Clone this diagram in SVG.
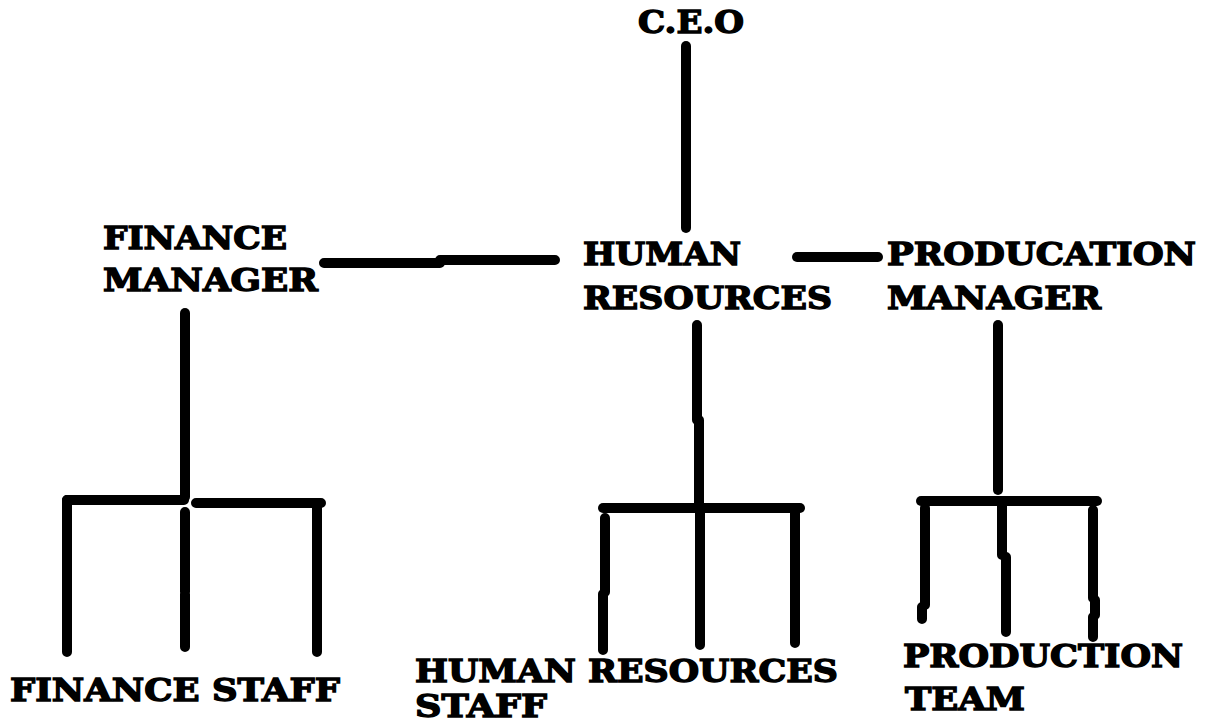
<svg xmlns="http://www.w3.org/2000/svg" width="1209" height="726" viewBox="0 0 1209 726">
<style>
text{font-family:"DejaVu Serif","Liberation Serif",serif;font-weight:900;font-size:32px;fill:#000;stroke:#000;stroke-width:1.4}
.c{stroke:#000;stroke-width:10;stroke-linecap:round;fill:none}
</style>
<rect width="1209" height="726" fill="#fff"/>
<g id="connectors">
<path class="c" d="M686 46V228"/>
<path class="c" d="M324 263H440M440 260H555"/>
<path class="c" d="M797 257H878"/>
<path class="c" d="M185 313V497"/>
<path class="c" d="M67 500H184M196 503H321"/>
<path class="c" d="M67 500V652M185 512V592M185 594V647M317 503V652"/>
<path class="c" d="M697 325V420M699 420V505"/>
<path class="c" d="M603 508H800"/>
<path class="c" d="M605 518V592M603 594V650M700 508V645M795 508V643"/>
<path class="c" d="M998 325V490"/>
<path class="c" d="M921 501H1097"/>
<path class="c" d="M925 508V605M922 607V619M1002 501V555M1006 557V632M1093 510V598M1095 600V615M1093 617V637"/>
</g>
<g id="ceo"><text x="638" y="33" textLength="106" lengthAdjust="spacingAndGlyphs">C.E.O</text></g>
<g id="finance-manager">
<text x="103" y="249" textLength="184" lengthAdjust="spacingAndGlyphs">FINANCE</text>
<text x="103" y="291" textLength="215" lengthAdjust="spacingAndGlyphs">MANAGER</text>
</g>
<g id="human-resources">
<text x="583" y="265" textLength="158" lengthAdjust="spacingAndGlyphs">HUMAN</text>
<text x="583" y="309" textLength="249" lengthAdjust="spacingAndGlyphs">RESOURCES</text>
</g>
<g id="production-manager">
<text x="887" y="265" textLength="309" lengthAdjust="spacingAndGlyphs">PRODUCATION</text>
<text x="887" y="309" textLength="214" lengthAdjust="spacingAndGlyphs">MANAGER</text>
</g>
<g id="finance-staff"><text x="10" y="701" textLength="330" lengthAdjust="spacingAndGlyphs">FINANCE STAFF</text></g>
<g id="hr-staff">
<text x="415" y="682" textLength="423" lengthAdjust="spacingAndGlyphs">HUMAN RESOURCES</text>
<text x="415" y="717" textLength="132" lengthAdjust="spacingAndGlyphs">STAFF</text>
</g>
<g id="production-team">
<text x="903" y="667" textLength="280" lengthAdjust="spacingAndGlyphs">PRODUCTION</text>
<text x="905" y="710" textLength="120" lengthAdjust="spacingAndGlyphs">TEAM</text>
</g>
</svg>
